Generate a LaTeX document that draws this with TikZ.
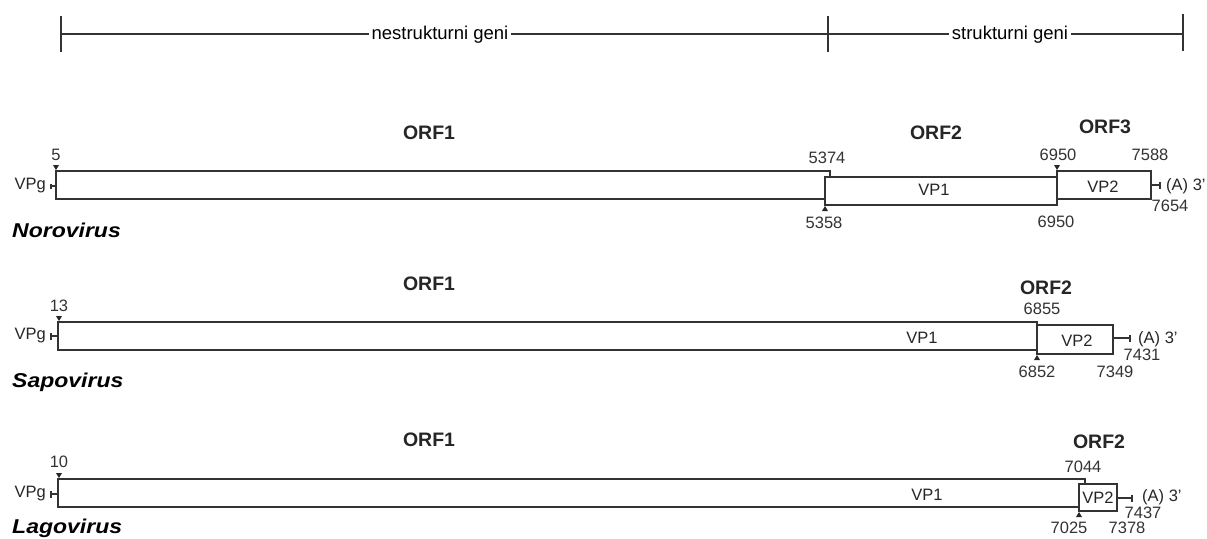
\documentclass[tikz,border=0pt]{standalone}
\usepackage{fontspec}
\setmainfont{Liberation Sans}
\begin{document}
\begin{tikzpicture}[x=1pt,y=-1pt,
  num/.style={font=\fontsize{16.5}{17}\selectfont, text=black!80, inner sep=0pt},
  vp/.style={font=\fontsize{16.5}{17}\selectfont, text=black!85, inner sep=0pt},
  orf/.style={font=\fontsize{19.5}{20}\bfseries\selectfont, text=black!85, inner sep=0pt},
  top/.style={font=\fontsize{18.5}{20}\selectfont, fill=white, inner sep=3pt},
  virus/.style={font=\fontsize{20}{21}\bfseries\itshape\selectfont, inner sep=0pt, anchor=west},
  gene/.style={draw=black!80, line width=1.4pt, fill=white},
  thin/.style={draw=black!80, line width=1.2pt},
  tridown/.pic={\fill[black!85] (-3,-4) -- (3,-4) -- (0,1) -- cycle;},
  triup/.pic={\fill[black!85] (-3,4) -- (3,4) -- (0,-1) -- cycle;}
]
\useasboundingbox (0,0) rectangle (1207,538);

% ---------- top bar ----------
\coordinate (tl) at (61,34);
\coordinate (tm) at (828,34);
\coordinate (tr) at (1183,34);
\draw[thin] (tl) -- (tr);
\draw[thin] (61,16) -- (61,52);
\draw[thin] (828,16) -- (828,52);
\draw[thin] (1183,14) -- (1183,51);
\node[top] (nsg) at (440,35) {nestrukturni geni};
\node[top] (sg) at (1010,35) {strukturni geni};

% ---------- Norovirus ----------
\node[orf] (n1) at (429,133) {ORF1};
\node[orf] (n2) at (936,133) {ORF2};
\node[orf] (n3) at (1105,127) {ORF3};
\draw[gene] (56,171) rectangle (830,199);
\draw[gene] (825,177) rectangle (1057,205);
\draw[gene] (1057,171) rectangle (1151,199);
\draw[draw=black!80, line width=1.6pt] (1057,171) -- (1057,205);
\node[vp] (nvp1) at (934,190) {VP1};
\node[vp] (nvp2) at (1103,187) {VP2};
\pic at (56,169) {tridown};
\pic at (1057,169) {tridown};
\pic at (825,207) {triup};
\draw[thin] (51,186) -- (56,186);
\draw[thin] (51,183.5) -- (51,188.5);
\draw[thin] (1151,185) -- (1160,185);
\draw[thin] (1160,181.5) -- (1160,188.5);
\node[num] (n5) at (56,155) {5};
\node[num] (n5374) at (827,158) {5374};
\node[num] (n5358) at (824,223) {5358};
\node[num] (n6950a) at (1058,155) {6950};
\node[num] (n6950b) at (1056,222) {6950};
\node[num] (n7588) at (1150,155) {7588};
\node[num] (n7654) at (1170,206) {7654};
\node[vp, anchor=west] (na) at (1166,186) {(A) 3'};
\node[vp, anchor=east] (nvpg) at (46,186) {VPg};
\node[virus] (noro) at (12,230) {\scalebox{1.15}[1]{Norovirus}};

% ---------- Sapovirus ----------
\node[orf] (s1) at (429,284) {ORF1};
\node[orf] (s2) at (1046,288) {ORF2};
\draw[gene] (58,322) rectangle (1037,350);
\draw[gene] (1037,325) rectangle (1113,354);
\node[vp] (svp1) at (922,338) {VP1};
\node[vp] (svp2) at (1077,341) {VP2};
\pic at (59,320) {tridown};
\pic at (1037,356) {triup};
\draw[thin] (51,336) -- (58,336);
\draw[thin] (51,332.5) -- (51,339.5);
\draw[thin] (1113,338) -- (1130,338);
\draw[thin] (1130,334.5) -- (1130,341.5);
\node[num] (s13) at (59,306) {13};
\node[num] (s6855) at (1042,309) {6855};
\node[num] (s6852) at (1037,372) {6852};
\node[num] (s7349) at (1115,372) {7349};
\node[num] (s7431) at (1142,355) {7431};
\node[vp, anchor=west] (sa) at (1138,339) {(A) 3'};
\node[vp, anchor=east] (svpg) at (46,336) {VPg};
\node[virus] (sapo) at (12,382) {\scalebox{1.15}[1]{Sapovirus}};

% ---------- Lagovirus ----------
\node[orf] (l1) at (429,440) {ORF1};
\node[orf] (l2) at (1099,442) {ORF2};
\draw[gene] (58,479) rectangle (1085,507);
\draw[gene] (1079,484) rectangle (1117,511);
\node[vp] (lvp1) at (927,495) {VP1};
\node[vp] (lvp2) at (1098,498) {VP2};
\pic at (59,477) {tridown};
\pic at (1079,513) {triup};
\draw[thin] (51,494) -- (58,494);
\draw[thin] (51,490.5) -- (51,497.5);
\draw[thin] (1117,498) -- (1132,498);
\draw[thin] (1132,494.5) -- (1132,501.5);
\node[num] (l10) at (59,462) {10};
\node[num] (l7044) at (1083,467) {7044};
\node[num] (l7025) at (1069,528) {7025};
\node[num] (l7378) at (1127,528) {7378};
\node[num] (l7437) at (1143,513) {7437};
\node[vp, anchor=west] (la) at (1142,497) {(A) 3'};
\node[vp, anchor=east] (lvpg) at (46,494) {VPg};
\node[virus] (lago) at (12,528) {\scalebox{1.15}[1]{Lagovirus}};
\end{tikzpicture}
\end{document}
